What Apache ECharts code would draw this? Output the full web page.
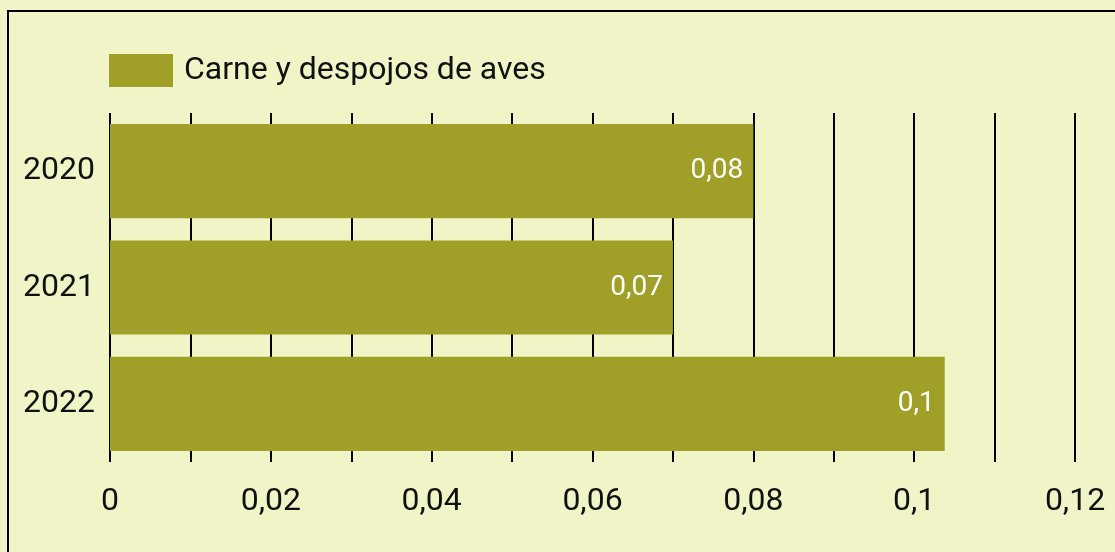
<!DOCTYPE html>
<html>
<head>
<meta charset="utf-8">
<script src="https://cdn.jsdelivr.net/npm/echarts@6/dist/echarts.min.js"></script>
<style>
  html, body { margin: 0; padding: 0; background: #f0f4c6; }
  #chart { width: 1115px; height: 552px; }
</style>
</head>
<body>
<div id="chart"></div>
<script>
// data
const years = ["2020", "2021", "2022"];
const values = [0.08, 0.07, 0.1038];
const seriesName = "Carne y despojos de aves";
const xTickLabels = [0, 0.02, 0.04, 0.06, 0.08, 0.1, 0.12];

const fmt = (v) => String(parseFloat(v.toFixed(2))).replace(".", ",");

const chart = echarts.init(document.getElementById("chart"));

const option = {
  backgroundColor: "#f0f4c6",
  animation: false,
  textStyle: { fontFamily: "Roboto" },
  graphic: [
    {
      type: "rect",
      shape: { x: 8, y: 11, width: 1200, height: 600 },
      style: { fill: null, stroke: "#000", lineWidth: 2 },
      z: -1,
    },
  ],
  legend: {
    left: 109,
    top: 54,
    padding: 0,
    itemWidth: 64,
    itemHeight: 33,
    icon: "rect",
    data: [seriesName],
    textStyle: { fontSize: 32, color: "#111", padding: [9, 0, 0, 6] },
  },
  grid: { left: 110, right: 40, top: 113, bottom: 90 },
  xAxis: {
    type: "value",
    min: 0,
    max: 0.12,
    interval: 0.01,
    axisLine: { show: false },
    axisTick: { show: false },
    splitLine: { show: true, lineStyle: { color: "#000", width: 2 } },
    axisLabel: {
      fontSize: 32,
      color: "#111",
      margin: 24,
      formatter: (v) => {
        const hit = xTickLabels.find((t) => Math.abs(t - v) < 1e-6);
        return hit === undefined ? "" : fmt(hit);
      },
    },
  },
  yAxis: {
    type: "category",
    data: years,
    inverse: true,
    axisLine: { show: false },
    axisTick: { show: false },
    axisLabel: { fontSize: 32, color: "#111", margin: 15, padding: [8, 0, 0, 0] },
  },
  series: [
    {
      name: seriesName,
      type: "bar",
      data: values,
      barCategoryGap: "19%",
      itemStyle: { color: "#a09f27" },
      label: {
        show: true,
        position: "insideRight",
        distance: 10,
        color: "#fff",
        fontSize: 28,
        padding: [4, 0, 0, 0],
        formatter: (p) => fmt(p.value),
      },
    },
  ],
};

chart.setOption(option);
</script>
</body>
</html>
